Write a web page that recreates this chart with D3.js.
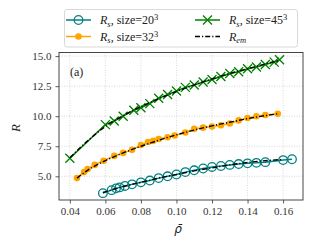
<!DOCTYPE html>
<html>
<head>
<meta charset="utf-8">
<script src="https://cdn.jsdelivr.net/npm/d3@7"></script>
<style>
  body { margin: 0; background: #fff; }
</style>
</head>
<body>
<script>
// data
var rho20 = [0.0586, 0.0635, 0.066, 0.068, 0.071, 0.075, 0.080, 0.085, 0.090, 0.095, 0.100, 0.105, 0.110, 0.115, 0.120, 0.125, 0.130, 0.135, 0.140, 0.145, 0.150, 0.160, 0.165];
var rs20  = [3.6, 3.85, 4.0, 4.08, 4.2, 4.33, 4.5, 4.65, 4.85, 5.0, 5.15, 5.35, 5.5, 5.65, 5.78, 5.86, 5.95, 6.02, 6.08, 6.12, 6.18, 6.35, 6.42];

var rho32 = [0.044, 0.048, 0.050, 0.054, 0.059, 0.065, 0.070, 0.075, 0.080, 0.084, 0.087, 0.090, 0.095, 0.099, 0.105, 0.110, 0.115, 0.120, 0.125, 0.130, 0.135, 0.140, 0.145, 0.150, 0.157];
var rs32  = [4.85, 5.35, 5.6, 5.95, 6.3, 6.7, 6.95, 7.2, 7.6, 7.85, 7.95, 8.1, 8.25, 8.4, 8.65, 8.95, 9.05, 9.15, 9.25, 9.4, 9.65, 9.85, 10.0, 10.1, 10.2];

var rho45 = [0.040, 0.060, 0.065, 0.070, 0.076, 0.080, 0.085, 0.090, 0.095, 0.100, 0.105, 0.110, 0.115, 0.120, 0.125, 0.130, 0.135, 0.140, 0.145, 0.150, 0.155, 0.158];
var rs45  = [6.5, 9.3, 9.6, 10.0, 10.5, 10.7, 11.05, 11.5, 11.8, 12.1, 12.4, 12.6, 12.85, 13.05, 13.3, 13.55, 13.7, 13.95, 14.1, 14.3, 14.5, 14.7];

var emRho20 = [0.0586, 0.07, 0.08, 0.09, 0.10, 0.11, 0.12, 0.13, 0.14, 0.15, 0.16];
var em20    = [3.65, 4.15, 4.5, 4.85, 5.15, 5.45, 5.7, 5.95, 6.15, 6.3, 6.4];
var emRho32 = [0.044, 0.05, 0.06, 0.07, 0.08, 0.09, 0.10, 0.11, 0.12, 0.13, 0.14, 0.15, 0.157];
var em32    = [4.85, 5.5, 6.3, 6.95, 7.5, 8.0, 8.45, 8.85, 9.2, 9.5, 9.8, 10.05, 10.2];
var emRho45 = [0.04, 0.05, 0.06, 0.07, 0.08, 0.09, 0.10, 0.11, 0.12, 0.13, 0.14, 0.15, 0.158];
var em45    = [6.55, 7.95, 9.15, 10.05, 10.8, 11.45, 12.05, 12.6, 13.1, 13.55, 13.95, 14.35, 14.65];

var xTicks = [0.04, 0.06, 0.08, 0.10, 0.12, 0.14, 0.16];
var yTicks = [5.0, 7.5, 10.0, 12.5, 15.0];

(function() {
var w = 313, h = 248;
var mLeft = 59, mRight = 303, mTop = 52.5, mBottom = 200;
var serif = "Liberation Serif";

var svg = d3.select("body").append("svg")
    .attr("width", w)
    .attr("height", h)
    .attr("font-family", serif);

var x = d3.scaleLinear().domain([0.0339, 0.1712]).range([mLeft, mRight]);
var y = d3.scaleLinear().domain([3.03, 15.3]).range([mBottom, mTop]);

// grid
svg.append("g").selectAll("line").data(xTicks).enter().append("line")
    .attr("x1", function(d) { return x(d); }).attr("x2", function(d) { return x(d); })
    .attr("y1", mTop).attr("y2", mBottom)
    .style("stroke", "#cfcfcf").style("stroke-width", 0.8).style("stroke-dasharray", "1,1.5");
svg.append("g").selectAll("line").data(yTicks).enter().append("line")
    .attr("y1", function(d) { return y(d); }).attr("y2", function(d) { return y(d); })
    .attr("x1", mLeft).attr("x2", mRight)
    .style("stroke", "#cfcfcf").style("stroke-width", 0.8).style("stroke-dasharray", "1,1.5");

// axes
var xAxis = svg.append("g")
    .attr("transform", "translate(0," + mBottom + ")")
    .call(d3.axisBottom(x).tickValues(xTicks).tickSize(3.5).tickPadding(4).tickFormat(d3.format(".2f")));
var yAxis = svg.append("g")
    .attr("transform", "translate(" + mLeft + ",0)")
    .call(d3.axisLeft(y).tickValues(yTicks).tickSize(3.5).tickPadding(4).tickFormat(d3.format(".1f")));
[xAxis, yAxis].forEach(function(a) {
    a.attr("font-family", serif).attr("font-size", 11);
    a.select(".domain").remove();
    a.selectAll("line").style("stroke", "#333").style("stroke-width", 0.8);
    a.selectAll("text").style("fill", "#333");
});

// frame
svg.append("rect")
    .attr("x", mLeft).attr("y", mTop)
    .attr("width", mRight - mLeft).attr("height", mBottom - mTop)
    .style("fill", "none").style("stroke", "#333").style("stroke-width", 0.9);

function pts(xs, ys) {
    return xs.map(function(v, i) { return [v, ys[i]]; });
}
var line = d3.line().x(function(d) { return x(d[0]); }).y(function(d) { return y(d[1]); });

var teal = "#008080", orange = "#ffa500", green = "#008000";
var xMark = "M-4.5,-4.5L4.5,4.5M-4.5,4.5L4.5,-4.5";

// series lines
svg.append("path").datum(pts(rho20, rs20)).attr("d", line)
    .style("fill", "none").style("stroke", teal).style("stroke-width", 1.5);
svg.append("path").datum(pts(rho32, rs32)).attr("d", line)
    .style("fill", "none").style("stroke", orange).style("stroke-width", 1.5);
svg.append("path").datum(pts(rho45, rs45)).attr("d", line)
    .style("fill", "none").style("stroke", green).style("stroke-width", 1.5);

// markers
svg.append("g").selectAll("circle").data(pts(rho20, rs20)).enter().append("circle")
    .attr("cx", function(d) { return x(d[0]); }).attr("cy", function(d) { return y(d[1]); })
    .attr("r", 4.3)
    .style("fill", "none").style("stroke", teal).style("stroke-width", 1.3);
svg.append("g").selectAll("circle").data(pts(rho32, rs32)).enter().append("circle")
    .attr("cx", function(d) { return x(d[0]); }).attr("cy", function(d) { return y(d[1]); })
    .attr("r", 3.3)
    .style("fill", orange);
svg.append("g").selectAll("path").data(pts(rho45, rs45)).enter().append("path")
    .attr("d", xMark)
    .attr("transform", function(d) { return "translate(" + x(d[0]) + "," + y(d[1]) + ")"; })
    .style("fill", "none").style("stroke", green).style("stroke-width", 1.3);

// R_em dash-dot
var emLine = d3.line().curve(d3.curveMonotoneX)
    .x(function(d) { return x(d[0]); }).y(function(d) { return y(d[1]); });
[[emRho20, em20], [emRho32, em32], [emRho45, em45]].forEach(function(s) {
    svg.append("path").datum(pts(s[0], s[1])).attr("d", emLine)
        .style("fill", "none").style("stroke", "#000").style("stroke-width", 1.4)
        .style("stroke-dasharray", "5,2,1.2,2");
});

// labels
svg.append("text")
    .attr("x", 70).attr("y", 76)
    .attr("font-size", 12).style("fill", "#222")
    .text("(a)");

svg.append("text")
    .attr("transform", "translate(20,128) rotate(-90)")
    .attr("text-anchor", "middle")
    .attr("font-size", 13).style("font-style", "italic").style("fill", "#222")
    .text("R");

svg.append("text")
    .attr("x", 178).attr("y", 233)
    .attr("text-anchor", "middle")
    .attr("font-family", "DejaVu Sans")
    .attr("font-size", 12).style("font-style", "italic").style("fill", "#222")
    .text("\u03C1\u0304");

// legend
var legend = svg.append("g");
legend.append("rect")
    .attr("x", 64.5).attr("y", 9.5).attr("width", 233).attr("height", 37.5)
    .attr("rx", 2.5)
    .style("fill", "#fff").style("stroke", "#d5d5d5").style("stroke-width", 0.9);

var items = [
    {col: 0, row: 0, color: teal, marker: "open", size: "20"},
    {col: 0, row: 1, color: orange, marker: "dot", size: "32"},
    {col: 1, row: 0, color: green, marker: "x", size: "45"},
    {col: 1, row: 1, color: "#000", marker: "em"}
];
items.forEach(function(it) {
    var lx = it.col === 0 ? 66 : 195;
    var ly = it.row === 0 ? 20 : 36.5;
    var g = legend.append("g");
    g.append("line").attr("x1", lx).attr("x2", lx + 25).attr("y1", ly).attr("y2", ly)
        .style("stroke", it.color)
        .style("stroke-width", it.marker === "em" ? 1.4 : 1.5)
        .style("stroke-dasharray", it.marker === "em" ? "5,2,1.2,2" : null);
    if (it.marker === "open") {
        g.append("circle").attr("cx", lx + 12.5).attr("cy", ly).attr("r", 4.3)
            .style("fill", "none").style("stroke", it.color).style("stroke-width", 1.3);
    } else if (it.marker === "dot") {
        g.append("circle").attr("cx", lx + 12.5).attr("cy", ly).attr("r", 3.3).style("fill", it.color);
    } else if (it.marker === "x") {
        g.append("path").attr("transform", "translate(" + (lx + 12.5) + "," + ly + ")")
            .attr("d", xMark)
            .style("stroke", it.color).style("stroke-width", 1.3);
    }
    var t = g.append("text").attr("x", lx + 34).attr("y", ly + 4)
        .attr("font-size", 12).style("fill", "#222");
    t.append("tspan").style("font-style", "italic").text("R");
    if (it.marker === "em") {
        t.append("tspan").style("font-style", "italic").attr("font-size", 8.5).attr("dy", 2.5).text("em");
    } else {
        t.append("tspan").style("font-style", "italic").attr("font-size", 8.5).attr("dy", 2.5).text("s");
        t.append("tspan").attr("dy", -2.5).text(", size=" + it.size);
        t.append("tspan").attr("font-size", 8.5).attr("dy", -4).text("3");
    }
});
})();
</script>
</body>
</html>
